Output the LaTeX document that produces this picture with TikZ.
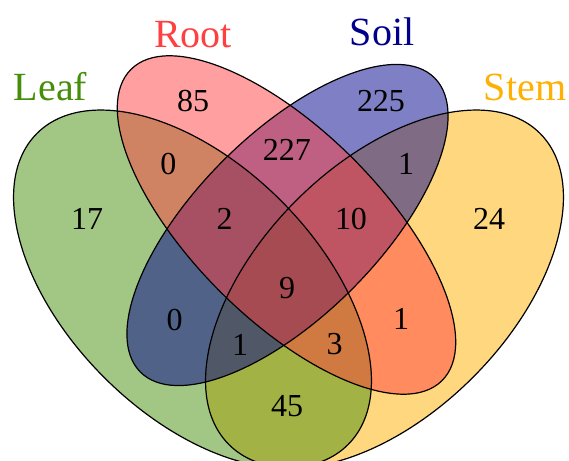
\documentclass[tikz,border=0pt]{standalone}
\usepackage{fontspec}
\setmainfont{Liberation Serif}

\definecolor{leafcol}{RGB}{70,142,10}
\definecolor{rootcol}{RGB}{255,64,64}
\definecolor{soilcol}{RGB}{0,0,139}
\definecolor{stemcol}{RGB}{255,176,0}

\tikzset{
  setfill/.style={fill=#1, fill opacity=0.5},
  setedge/.style={draw=black, line width=0.6pt},
  setname/.style={text=#1, inner sep=0pt, font=\fontsize{20}{24}\selectfont},
  count/.style={inner sep=0pt, font=\fontsize{16}{19}\selectfont}
}

% the four sets
\newcommand{\leafset}{(192.5,172) ellipse [x radius=220, y radius=125]}
\newcommand{\rootset}{(286.5,236) ellipse [x radius=220, y radius=94]}
\newcommand{\soilset}{(287.5,236) ellipse [x radius=208, y radius=91]}
\newcommand{\stemset}{(384.5,172) ellipse [x radius=220, y radius=125]}

\begin{document}
\begin{tikzpicture}[x=0.5pt, y=0.5pt]
  \useasboundingbox (0,0) rectangle (569,461);
  \clip (0,0) rectangle (569,461);

  % fills
  \path[setfill=stemcol, rotate around={45:(384.5,172)}] \stemset;
  \path[setfill=leafcol, rotate around={-45:(192.5,172)}] \leafset;
  \path[setfill=soilcol, rotate around={45:(287.5,236)}] \soilset;
  \path[setfill=rootcol, rotate around={-45:(286.5,236)}] \rootset;

  % outlines
  \draw[setedge, rotate around={45:(384.5,172)}] \stemset;
  \draw[setedge, rotate around={-45:(192.5,172)}] \leafset;
  \draw[setedge, rotate around={45:(287.5,236)}] \soilset;
  \draw[setedge, rotate around={-45:(286.5,236)}] \rootset;

  % set names
  \node[setname=leafcol] (leaf) at (50.5,374.5) {Leaf};
  \node[setname=rootcol] (root) at (193,426.5) {Root};
  \node[setname=soilcol] (soil) at (382,429) {Soil};
  \node[setname=stemcol] (stem) at (525,374) {Stem};

  % counts
  \node[count] (rootonly) at (193,359.5) {85};
  \node[count] (soilonly) at (381,359.5) {225};
  \node[count] (leafroot) at (168.5,296.5) {0};
  \node[count] (rootsoil) at (287,311) {227};
  \node[count] (soilstem) at (406,297) {1};
  \node[count] (leafonly) at (87,242) {17};
  \node[count] (lrs) at (224.5,242) {2};
  \node[count] (rss) at (351,242) {10};
  \node[count] (stemonly) at (489,242) {24};
  \node[count] (all) at (287,173) {9};
  \node[count] (leafsoil) at (174.5,141) {0};
  \node[count] (rootstem) at (401,142) {1};
  \node[count] (lss) at (240,116.5) {1};
  \node[count] (lrst) at (334.5,117) {3};
  \node[count] (leafstem) at (287,54.5) {45};
\end{tikzpicture}
\end{document}
